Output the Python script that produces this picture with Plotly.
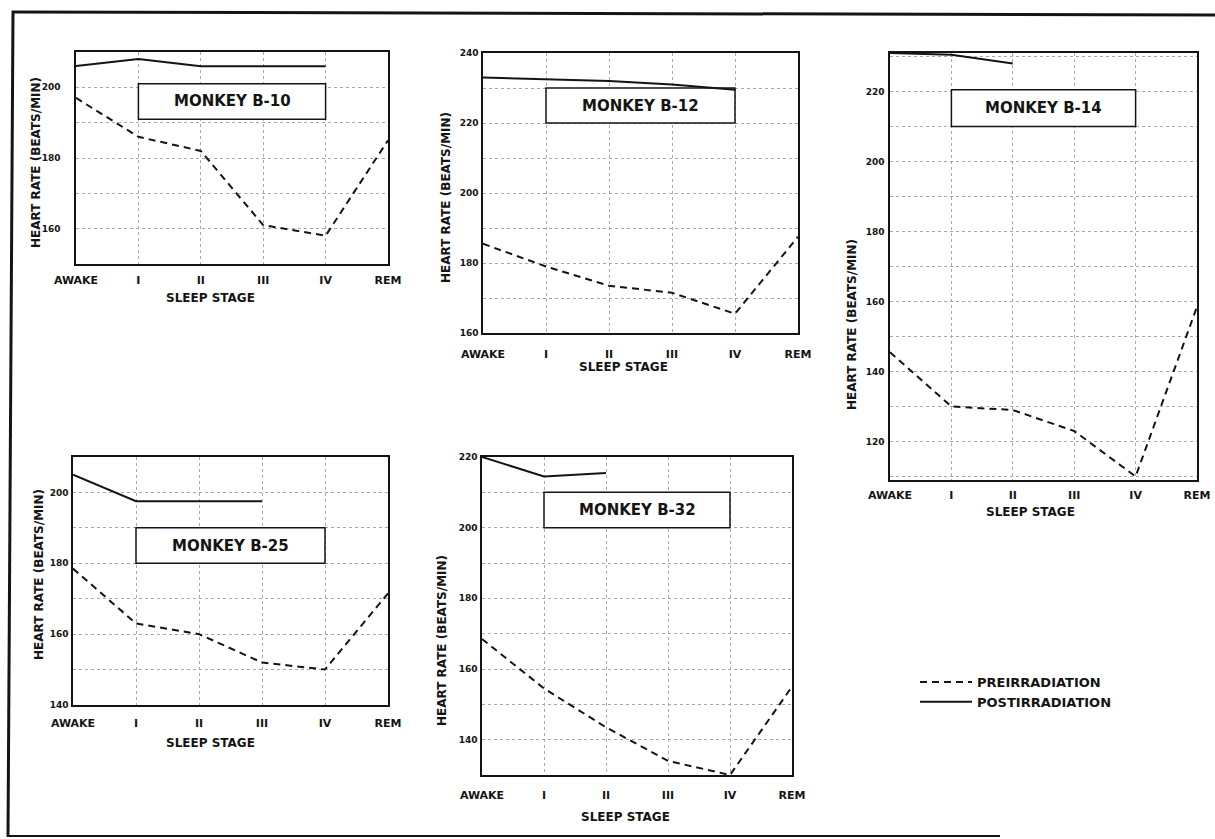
import plotly.graph_objects as go

# Sleep stages on the x axis of every panel
STAGES = ["AWAKE", "I", "II", "III", "IV", "REM"]

# Heart rate (beats/min) per sleep stage, pre- and post-irradiation
B10_PRE = [197, 186, 182, 161, 158, 185]
B10_POST = [206, 208, 206, 206, 206]
B12_PRE = [185.5, 179, 173.5, 171.5, 165.5, 187.5]
B12_POST = [233, 232.5, 232, 231, 229.5]
B14_PRE = [145.5, 130, 129, 123, 110, 158.5]
B14_POST = [231, 230.5, 228]
B25_PRE = [178.5, 163, 160, 152, 150, 171.5]
B25_POST = [205, 197.5, 197.5, 197.5]
B32_PRE = [168.5, 154.5, 143.5, 134, 130, 155]
B32_POST = [220, 214.5, 215.5]

MONKEYS = ["MONKEY B-10", "MONKEY B-12", "MONKEY B-14", "MONKEY B-25", "MONKEY B-32"]
PRE = [B10_PRE, B12_PRE, B14_PRE, B25_PRE, B32_PRE]
POST = [B10_POST, B12_POST, B14_POST, B25_POST, B32_POST]

W, H = 1215, 839
INK = "#141414"
GRID = "#a8a8a8"
FONT = "DejaVu Sans"

# panel layout in pixels: plot box (left, top, right, bottom), y range, y ticks,
# label box rows, axis-title anchors and label offsets
PANELS = [
    dict(box=(76, 52, 388, 264), yr=(150, 210), yt=[160, 180, 200], lab=(191, 201),
         xt=(210, 298), yt_pos=(36, 163), ystand=12, xstand=5),
    dict(box=(483, 53, 798, 333), yr=(160, 240), yt=[160, 180, 200, 220, 240], lab=(220, 230),
         xt=(623, 367), yt_pos=(446, 198), ystand=1, xstand=10),
    dict(box=(890, 53, 1197, 480), yr=(109, 231), yt=[120, 140, 160, 180, 200, 220], lab=(210, 220.5),
         xt=(1030, 512), yt_pos=(852, 325), ystand=2, xstand=4),
    dict(box=(73, 457, 388, 705), yr=(140, 210), yt=[140, 160, 180, 200], lab=(180, 190),
         xt=(210, 743), yt_pos=(39, 575), ystand=1, xstand=7),
    dict(box=(482, 457, 792, 775), yr=(130, 220), yt=[140, 160, 180, 200, 220], lab=(200, 210),
         xt=(625, 817), yt_pos=(442, 640), ystand=1, xstand=9),
]


def px_x(v):
    return v / W


def px_y(v):
    return 1 - v / H


fig = go.Figure()
annotations = []
shapes = []

for i, (name, pre, post, p) in enumerate(zip(MONKEYS, PRE, POST, PANELS)):
    n = "" if i == 0 else str(i + 1)
    xa, ya = "x" + n, "y" + n
    l, t, r, b = p["box"]

    fig.add_trace(go.Scatter(
        x=STAGES[:len(pre)], y=pre, xaxis=xa, yaxis=ya, mode="lines",
        line=dict(color=INK, width=2, dash="7px,5px"),
        name="PREIRRADIATION", legendgroup="pre", showlegend=(i == 0), legendrank=1,
    ))
    fig.add_trace(go.Scatter(
        x=STAGES[:len(post)], y=post, xaxis=xa, yaxis=ya, mode="lines",
        line=dict(color=INK, width=2),
        name="POSTIRRADIATION", legendgroup="post", showlegend=(i == 0), legendrank=2,
    ))

    axis_common = dict(showline=True, mirror=True, linecolor=INK, linewidth=1.5,
                       showgrid=True, gridcolor=GRID, griddash="dot", gridwidth=1,
                       zeroline=False, ticks="", automargin=False)
    fig.layout["xaxis" + n] = dict(
        axis_common, domain=[px_x(l), px_x(r)], anchor=ya, type="category",
        categoryorder="array", categoryarray=STAGES, range=[0, 5],
        tickfont=dict(family=FONT, size=11, color=INK, weight="bold"),
        ticklabelstandoff=p["xstand"],
    )
    fig.layout["yaxis" + n] = dict(
        axis_common, domain=[px_y(b), px_y(t)], anchor=xa, range=list(p["yr"]),
        tickvals=p["yt"], tickfont=dict(family=FONT, size=9, color=INK, weight="bold"),
        ticklabelstandoff=p["ystand"],
        minor=dict(dtick=10, tick0=0, showgrid=True, gridcolor=GRID, griddash="dot", gridwidth=1),
    )

    # labelled box spanning stages I to IV
    shapes.append(dict(type="rect", xref=xa, yref=ya, x0=1, x1=4,
                       y0=p["lab"][0], y1=p["lab"][1],
                       line=dict(color=INK, width=1.5), fillcolor="white", layer="between"))
    annotations.append(dict(xref=xa, yref=ya, x=2.5, y=(p["lab"][0] + p["lab"][1]) / 2,
                            text=name, showarrow=False,
                            font=dict(family=FONT, size=15, color=INK, weight="bold")))

    # axis titles
    annotations.append(dict(xref="paper", yref="paper", x=px_x(p["xt"][0]), y=px_y(p["xt"][1]),
                            text="SLEEP STAGE", showarrow=False, xanchor="center", yanchor="middle",
                            font=dict(family=FONT, size=12, color=INK, weight="bold")))
    annotations.append(dict(xref="paper", yref="paper", x=px_x(p["yt_pos"][0]), y=px_y(p["yt_pos"][1]),
                            text="HEART RATE (BEATS/MIN)", showarrow=False, textangle=-90,
                            xanchor="center", yanchor="middle",
                            font=dict(family=FONT, size=12, color=INK, weight="bold")))

# page frame
frame = dict(color=INK, width=3)
shapes.append(dict(type="line", xref="paper", yref="paper", x0=px_x(12), x1=1.0,
                   y0=px_y(12), y1=px_y(15), line=frame))
shapes.append(dict(type="line", xref="paper", yref="paper", x0=px_x(13), x1=px_x(8),
                   y0=px_y(11), y1=px_y(837), line=frame))
shapes.append(dict(type="line", xref="paper", yref="paper", x0=px_x(7), x1=px_x(1000),
                   y0=px_y(836), y1=px_y(836), line=dict(color=INK, width=2)))

fig.update_layout(
    width=W, height=H,
    margin=dict(l=0, r=0, t=0, b=0, autoexpand=False),
    paper_bgcolor="white", plot_bgcolor="white",
    font=dict(family=FONT, color=INK),
    shapes=shapes, annotations=annotations,
    showlegend=True,
    legend=dict(x=px_x(915), y=px_y(667), xanchor="left", yanchor="top",
                bgcolor="rgba(0,0,0,0)", borderwidth=0, itemwidth=52,
                font=dict(family=FONT, size=13, color=INK, weight="bold"),
                tracegroupgap=0),
)

fig.write_html("out.html")
